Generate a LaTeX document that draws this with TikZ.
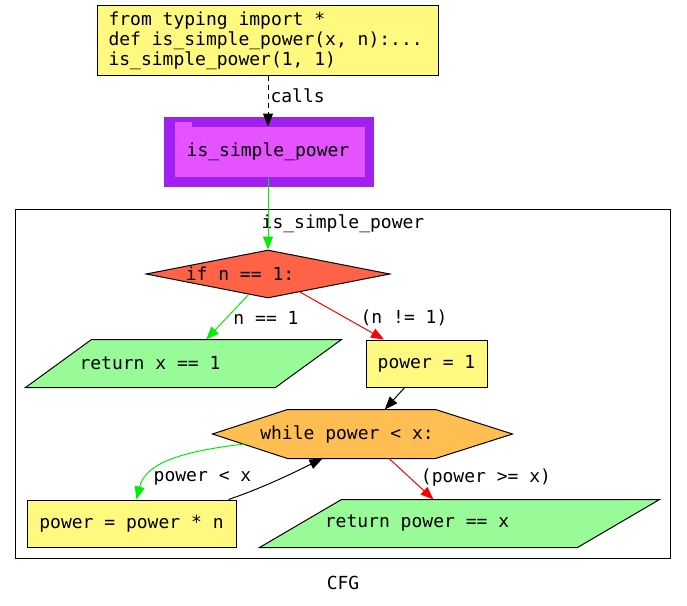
\documentclass[tikz,border=0pt]{standalone}
\usepackage{fontspec}
\setmainfont{DejaVu Sans Mono}[WordSpace={1,0,0}]
\usetikzlibrary{arrows.meta,shapes.geometric,calc}
\definecolor{cyel}{HTML}{FFF97F}
\definecolor{cgreen}{HTML}{98FB98}
\definecolor{ctomato}{HTML}{FF6347}
\definecolor{corange}{HTML}{FFBE52}
\definecolor{cpurple}{HTML}{A020F0}
\definecolor{cpink}{HTML}{E552FF}
\definecolor{cgedge}{HTML}{00EE00}
\definecolor{credge}{HTML}{FF0000}
\begin{document}
\begin{tikzpicture}[x=1pt,y=-1pt,line width=1pt,
  font=\fontsize{18}{20}\selectfont,
  every node/.style={inner sep=0pt},
  arr/.style={-{Triangle[length=13pt,width=10pt]}},
  box/.style={draw,fill=cyel,minimum width=#1,minimum height=47pt},
  ghost/.style={minimum width=#1,minimum height=47pt}]
\useasboundingbox (0,0) rectangle (687,605);
% source box
\node[draw,fill=cyel,minimum width=341pt,minimum height=70pt] (src) at (268,40) {};
\node[anchor=west,align=left] (srctxt) at (108,41)
  {from typing import *\\def is\_simple\_power(x, n):...\\is\_simple\_power(1, 1)};
% function block
\node[fill=cpurple,minimum width=210pt,minimum height=70pt] (fnout) at (269,152) {};
\node[fill=cpink,minimum width=190pt,minimum height=50pt] (fn) at (270,152) {};
\fill[cpink] ($(fn.north west)+(0,-5)$) rectangle ($(fn.north west)+(17,0.5)$);
\node (fntxt) at (268,152) {is\_simple\_power};
% cluster
\draw (15,209) rectangle (670,558);
\node (cltxt) at (343,224) {is\_simple\_power};
% diamond
\node[diamond,draw,fill=ctomato,minimum width=244pt,minimum height=48pt,aspect=5] (ifn) at (268,274) {};
\node (ifntxt) at (240,274) {if n == 1:};
% return x == 1
\node[ghost=315pt] (ret1) at (183.5,363.5) {};
\draw[fill=cgreen] ($(ret1.north west)+(66,0)$) -- (ret1.north east) -- ($(ret1.south east)+(-66,0)$) -- (ret1.south west) -- cycle;
\node (ret1txt) at (150,363) {return x == 1};
% power = 1
\node[box=121pt] (p1) at (426.5,363.5) {power = 1};
% while
\node[minimum width=299pt,minimum height=48pt] (wh) at (362.5,434) {};
\draw[fill=corange] (wh.west) -- ($(wh.north west)+(75,0)$) -- ($(wh.north east)+(-77,0)$) -- (wh.east) -- ($(wh.south east)+(-77,0)$) -- ($(wh.south west)+(75,0)$) -- cycle;
\node (whtxt) at (347,434) {while power < x:};
% power = power * n
\node[box=209pt] (pn) at (131.5,523.5) {power = power * n};
% return power == x
\node[ghost=399pt] (ret2) at (459.5,523.5) {};
\draw[fill=cgreen] ($(ret2.north west)+(82,0)$) -- (ret2.north east) -- ($(ret2.south east)+(-82,0)$) -- (ret2.south west) -- cycle;
\node (ret2txt) at (417,523) {return power == x};
% edges
\draw[arr,dash pattern=on 5pt off 4pt] (src.south) -- (src.south |- fn.north);
\node[anchor=west] (callslbl) at (270,96) {calls};
\draw[arr,cgedge] (fn.south -| ifn.north) -- (ifn.north);
\draw[arr,cgedge] (ifn) -- (ret1);
\node (l1) at (266,318) {n == 1};
\draw[arr,credge] (ifn) -- (p1);
\node (l2) at (404,318) {(n != 1)};
\draw[arr] (p1) -- (wh);
\draw[arr,cgedge] ($(wh.west)+(32,10)$) .. controls (175,452) and (145,465) .. ($(pn.north)+(5,0)$);
\node (l3) at (202.5,478) {power < x};
\draw[arr] ($(pn.north east)+(-8,0)$) .. controls (265,487) and (295,472) .. ($(wh.south)+(-40,0)$);
\draw[arr,credge] (wh) -- (ret2);
\node (l4) at (486,478) {(power >= x)};
\node (cfg) at (343,583) {CFG};
\end{tikzpicture}
\end{document}
